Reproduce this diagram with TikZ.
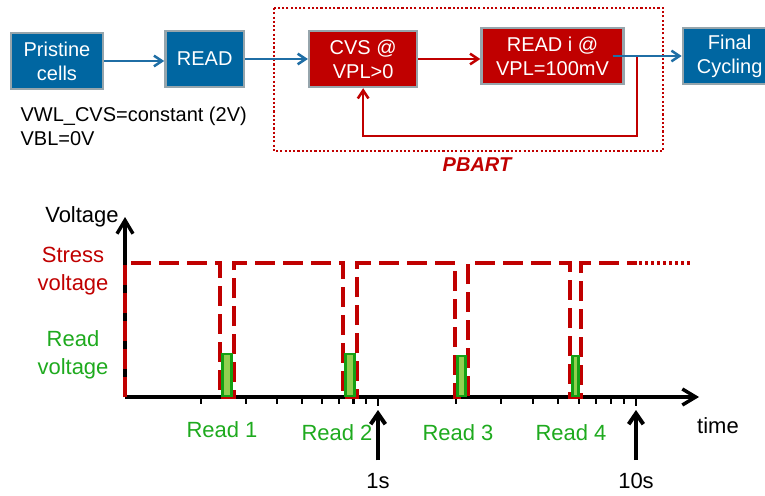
\documentclass[tikz,border=0pt]{standalone}
\usepackage{fontspec}
\setmainfont{Liberation Sans}
\usetikzlibrary{positioning,arrows.meta}

\definecolor{boxblue}{RGB}{0,102,161}
\definecolor{boxred}{RGB}{192,0,0}
\definecolor{boxedge}{RGB}{150,165,172}
\definecolor{arrowblue}{RGB}{31,110,165}
\definecolor{readgreen}{RGB}{30,170,30}
\definecolor{pulsefill}{RGB}{146,208,80}
\definecolor{pulseedge}{RGB}{20,160,20}

\begin{document}
\begin{tikzpicture}[
    x=0.75pt, y=-0.75pt,
    every node/.style={font=\fontsize{15}{18}\selectfont, inner sep=1pt},
    stepbox/.style={draw=boxedge, line width=1.8pt, text=white, align=center,
                  minimum height=42pt},
    bluebox/.style={stepbox, fill=boxblue},
    redbox/.style={stepbox, fill=boxred},
    bluearrow/.style={draw=arrowblue, line width=1.9pt,
                  -{Straight Barb[length=6pt,width=8pt]}},
    redarrow/.style={draw=boxred, line width=1.9pt,
                  -{Straight Barb[length=6pt,width=8pt]}},
    plotlabel/.style={font=\fontsize{16.5}{21}\selectfont},
    axisline/.style={line width=2.6pt, -{Straight Barb[length=10pt,width=12pt]}},
    markarrow/.style={line width=3pt, -{Straight Barb[length=8pt,width=11pt]}},
    stressline/.style={draw=boxred, line width=2.7pt, dash pattern=on 15pt off 6pt},
    pulse/.style={draw=pulseedge, fill=pulsefill, line width=1.6pt},
    tickline/.style={line width=1.6pt}
  ]
    \useasboundingbox (0,0) rectangle (765,496);

    % Flujo superior
    \node[bluebox, minimum width=69pt] (pristine) at (57,61) {Pristine\\cells};
    \node[bluebox, minimum width=59pt, right=45pt of pristine, yshift=1.5pt] (read) {READ};
    \node[redbox, minimum width=81pt, right=47pt of read] (cvs) {CVS @\\VPL>0};
    \node[redbox, minimum width=106.5pt, right=46.5pt of cvs, yshift=2.25pt] (readi) {READ i @\\VPL=100mV};
    \node[bluebox, minimum width=70pt, right=42.75pt of readi] (final) {Final\\Cycling};

    \node[anchor=west, align=left] (cond) at (19,126) {VWL\_CVS=constant (2V)\\VBL=0V};

    % Recuadro PBART
    \draw[boxred, line width=1.6pt, dash pattern=on 1.6pt off 1.6pt] (274,8) rectangle (663,151);
    \node[font=\fontsize{15}{18}\selectfont\bfseries\itshape, text=boxred] (pbart) at (477,165) {PBART};

    % Conexiones
    \draw[bluearrow] (pristine.east) -- (pristine.east -| read.west);
    \draw[bluearrow] (read.east) -- (read.east -| cvs.west);
    \draw[redarrow] (cvs.east) -- (cvs.east -| readi.west);
    \coordinate (fbtop) at (637,0 |- readi.east);
    \coordinate (fbcorner) at (637,136);
    \draw[redarrow] (fbtop) -- (fbcorner) -| (cvs.south);
    \draw[bluearrow] ([xshift=-9pt]readi.east) -- (final.west);

    % Ejes
    \coordinate (origin) at (125,397);
    \coordinate (xend) at (699,397);
    \coordinate (yend) at (125,217);
    \draw[axisline] (origin) -- (xend);
    \draw[axisline] (origin) -- (yend);

    % Escala logaritmica
    \foreach \k in {2,...,9} {
      \draw[tickline] ({378+253*(log10(\k)-1)},397) -- ++(0,7);
      \draw[tickline] ({378+258*log10(\k)},397) -- ++(0,7);
    }
    \draw[tickline] (378,397) -- ++(0,9);
    \draw[tickline] (636,397) -- ++(0,9);

    % Tension de estres y pulsos de lectura
    \draw[stressline] (origin) -- (125,263)
      \foreach \a/\b in {220/234,343/357,455/468,570/581} {
        -- (\a,263) -- (\a,397) -- (\b,397) -- (\b,263)
      } -- (637,263);
    \draw[boxred, line width=2.7pt, dash pattern=on 2pt off 2.5pt] (639,263) -- (690,263);
    \foreach \a/\b/\t in {220/234/354,343/357/354,455/468/356,570/581/356}
      \draw[pulse] (\a+2.5,396) rectangle (\b-2.5,\t);

    % Etiquetas
    \node[plotlabel, anchor=base] (voltage) at (82,222) {Voltage};
    \node[plotlabel, text=boxred, align=center] (stresslbl) at (73,271) {Stress\\voltage};
    \node[plotlabel, text=readgreen, align=center] (readlbl) at (73,355) {Read\\voltage};
    \node[plotlabel, anchor=base] (time) at (718,433) {time};
    \foreach \x/\y/\n in {222/437/1,337/440/2,458/440/3,571/440/4}
      \node[plotlabel, text=readgreen, anchor=base] (rd\n) at (\x,\y) {Read \n};

    % Marcas 1s y 10s
    \node[plotlabel, anchor=base] (onesec) at (378,488) {1s};
    \node[plotlabel, anchor=base] (tensec) at (636,488) {10s};
    \coordinate (onetip) at (378,410);
    \coordinate (tentip) at (636,410);
    \draw[markarrow] ([yshift=8.25pt]onesec.north) -- (onetip);
    \draw[markarrow] ([yshift=8.25pt]tensec.north) -- (tentip);
  \end{tikzpicture}
\end{document}
